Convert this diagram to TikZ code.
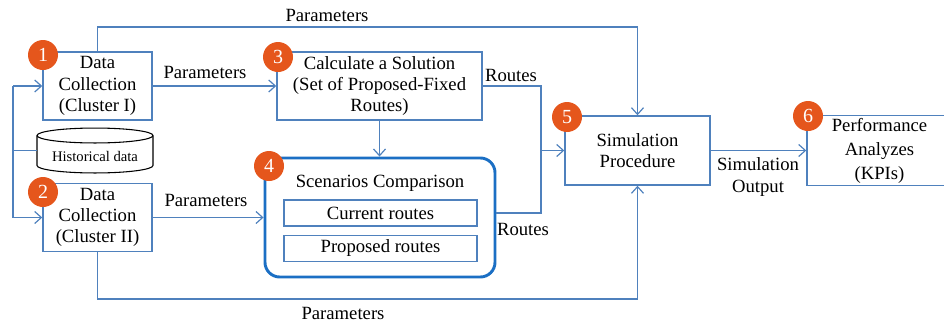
\documentclass[tikz,border=0pt]{standalone}
\usepackage{fontspec}
\setmainfont{Liberation Serif}
\usetikzlibrary{arrows.meta}
\definecolor{lineblue}{HTML}{4F81BD}
\definecolor{boldblue}{HTML}{1B6FC4}
\definecolor{badge}{HTML}{E5561C}
\tikzset{
  conn/.style={draw=lineblue, line width=1.1pt},
  arr/.style={conn, -{Straight Barb[length=5pt,width=9pt,line width=0.9pt]}},
  stepbox/.style={draw=lineblue, line width=1.1pt, fill=white, align=center,
    inner sep=2pt, font=\fontsize{14}{16}\selectfont},
  innerbox/.style={draw=lineblue, line width=0.9pt, align=center,
    minimum width=144.75pt, minimum height=19.5pt, inner sep=0pt,
    font=\fontsize{14}{16}\selectfont},
  badgenode/.style={circle, fill=badge, text=white, minimum size=22.5pt,
    inner sep=0pt, font=\fontsize{15}{15}\selectfont},
  lbl/.style={align=center, inner sep=0pt, font=\fontsize{14}{16}\selectfont},
}
\begin{document}
\begin{tikzpicture}[x=0.75pt, y=-0.75pt]
\useasboundingbox (0,0) rectangle (944,325);
\clip (0,0) rectangle (944,325);

% process boxes
\node[stepbox, minimum width=81.75pt, minimum height=51pt] (d1) at (97.5,86)
  {Data\\Collection\\(Cluster I)};
\node[stepbox, minimum width=81.75pt, minimum height=51pt] (d2) at (97.5,217.5)
  {Data\\Collection\\(Cluster II)};
\node[stepbox, minimum width=153.75pt, minimum height=51pt] (calc) at (379.5,86)
  {Calculate a Solution\\(Set of Proposed-Fixed\\Routes)};
\node[stepbox, minimum width=108.75pt, minimum height=51.75pt] (sim) at (637.5,150.5)
  {Simulation\\Procedure};
\node[stepbox, minimum width=108.75pt, minimum height=51.75pt,
  font=\fontsize{14}{18}\selectfont] (perf) at (879.5,150.5)
  {Performance\\Analyzes\\(KPIs)};

% scenario comparison group
\node[draw=boldblue, line width=2.2pt, rounded corners=11pt,
  minimum width=172.5pt, minimum height=89.25pt] (cmp) at (380,217.5) {};
\node[lbl] (cmptitle) at (380,183) {Scenarios Comparison};
\node[innerbox] (cur) at (380.5,213) {Current routes};
\node[innerbox] (prop) at (380.5,248.5) {Proposed routes};

% historical data store
\node[minimum width=87pt, minimum height=33.75pt, inner sep=0pt] (hist) at (95,150.5) {};
\draw[line width=0.8pt, fill=white]
  (37,135.5) -- (37,165.5) arc[start angle=180, end angle=360, x radius=43.5pt, y radius=5.6pt]
  -- (153,135.5);
\draw[line width=0.8pt, fill=white] (95,135.5) ellipse [x radius=43.5pt, y radius=5.6pt];
\node[lbl, font=\fontsize{11}{13}\selectfont] (histtxt) at (95,156) {Historical data};

% input bus on the left
\coordinate (busT) at (13,86);
\coordinate (busB) at (13,217.5);
\draw[conn] (busT) -- (busB);
\draw[conn] (hist.west) -- (hist.west -| busT);
\draw[arr] (busT) -- (d1.west);
\draw[arr] (busB) -- (d2.west);

% parameter flows
\coordinate (toprow) at (0,27);
\coordinate (botrow) at (0,299);
\draw[arr] (d1.north) -- (d1.north |- toprow) -| (sim.north);
\draw[arr] (d2.south) -- (d2.south |- botrow) -| (sim.south);
\draw[arr] (d1.east) -- (calc.west);
\draw[arr] (d2.east) -- (d2.east -| cmp.west);
\draw[arr] (calc.south) -- (calc.south |- cmp.north);

% routes into the simulation
\coordinate (join) at (541,150.5);
\draw[conn] (calc.east) -| (join);
\draw[conn] (cmp.east |- cur) -| (join);
\draw[arr] (join) -- (sim.west);
\draw[arr] (sim.east) -- (perf.west);

% flow labels
\node[lbl] (ptop) at (327,15) {Parameters};
\node[lbl] (p13) at (205,72) {Parameters};
\node[lbl] (p24) at (206,200) {Parameters};
\node[lbl] (pbot) at (343,313) {Parameters};
\node[lbl] (r1) at (511,75) {Routes};
\node[lbl] (r2) at (523,229) {Routes};
\node[lbl, font=\fontsize{14}{17}\selectfont] (simout) at (758,177) {Simulation\\Output};

% step badges
\node[badgenode] (b1) at (43,55) {1};
\node[badgenode] (b2) at (43,192) {2};
\node[badgenode] (b3) at (278,57) {3};
\node[badgenode] (b4) at (269,166) {4};
\node[badgenode] (b5) at (567,117) {5};
\node[badgenode] (b6) at (808,116) {6};
\end{tikzpicture}
\end{document}
